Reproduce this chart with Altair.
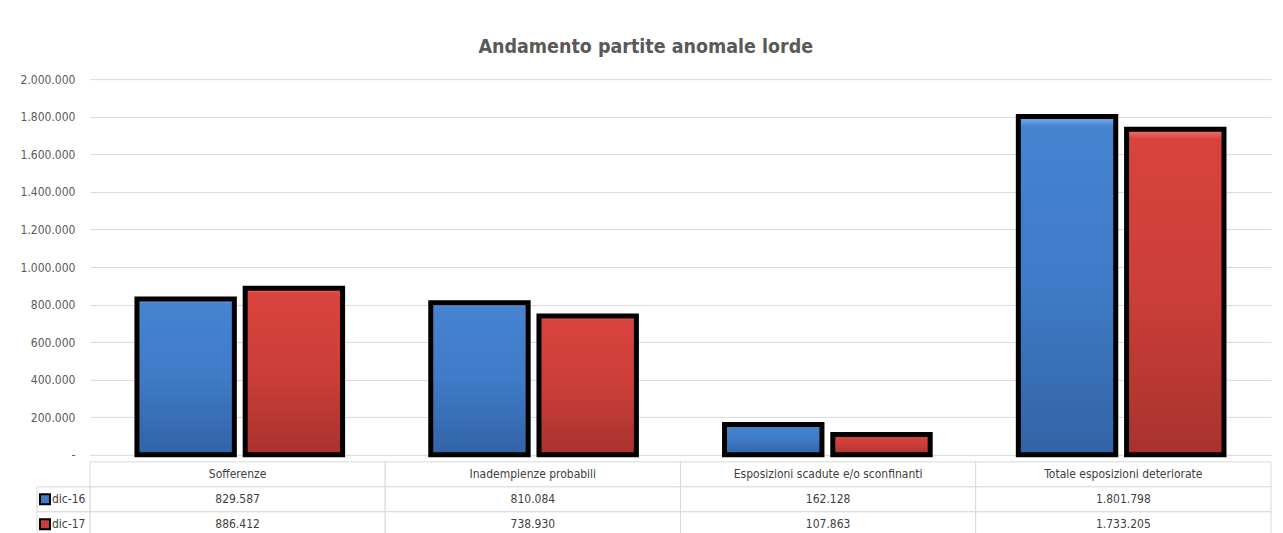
import altair as alt
import pandas as pd

categorie = ["Sofferenze", "Inadempienze probabili",
             "Esposizioni scadute e/o sconfinanti", "Totale esposizioni deteriorate"]
serie = ["dic-16", "dic-17"]
valori_dic16 = [829587, 810084, 162128, 1801798]
valori_dic17 = [886412, 738930, 107863, 1733205]
y_ticks = [0, 200000, 400000, 600000, 800000, 1000000, 1200000, 1400000, 1600000, 1800000, 2000000]
righe = ["cat", "dic-16", "dic-17"]

FONT = "Liberation Sans Narrow, DejaVu Sans Condensed, sans-serif"
GRAY = "#595959"
LINE = "#d9d9d9"


def fmt(v):
    return f"{v:,}".replace(",", ".")


rows = []
tab = []
for c, a, b in zip(categorie, valori_dic16, valori_dic17):
    rows.append({"categoria": c, "serie": "dic-16", "valore": a})
    rows.append({"categoria": c, "serie": "dic-17", "valore": b})
    tab.append({"categoria": c, "riga": "cat", "testo": c})
    tab.append({"categoria": c, "riga": "dic-16", "testo": fmt(a)})
    tab.append({"categoria": c, "riga": "dic-17", "testo": fmt(b)})
df = pd.DataFrame(rows)
df_tab = pd.DataFrame(tab)
df_leg = pd.DataFrame({"riga": serie})

grad_blue = alt.Gradient(gradient="linear", x1=0, x2=0, y1=0, y2=1, stops=[
    alt.GradientStop(color="#7fb6f0", offset=0),
    alt.GradientStop(color="#4683d0", offset=0.03),
    alt.GradientStop(color="#3f7bc6", offset=0.5),
    alt.GradientStop(color="#3263a6", offset=1)])
grad_red = alt.Gradient(gradient="linear", x1=0, x2=0, y1=0, y2=1, stops=[
    alt.GradientStop(color="#f07a72", offset=0),
    alt.GradientStop(color="#d9433d", offset=0.03),
    alt.GradientStop(color="#cc3e39", offset=0.5),
    alt.GradientStop(color="#a8322d", offset=1)])

label_expr = ("datum.value == 0 ? '-' : replace(replace(format(datum.value, ',.0f'), ',', '.'), ',', '.')")

base = alt.Chart(df).encode(
    x=alt.X("categoria:N", sort=categorie,
            scale=alt.Scale(domain=categorie, paddingInner=0.3, paddingOuter=0.16),
            axis=None),
    xOffset=alt.XOffset("serie:N", scale=alt.Scale(domain=serie, paddingInner=0.1, paddingOuter=0)),
    y=alt.Y("valore:Q", scale=alt.Scale(domain=[0, 2000000], nice=False),
            axis=alt.Axis(values=y_ticks, labelExpr=label_expr, title=None, domain=False,
                          ticks=False, labelPadding=15, gridColor=LINE, labelColor=GRAY,
                          labelFontSize=12, labelFont=FONT)),
)
blue = base.transform_filter(alt.datum.serie == "dic-16").mark_bar(
    fill=grad_blue, stroke="black", strokeWidth=5)
red = base.transform_filter(alt.datum.serie == "dic-17").mark_bar(
    fill=grad_red, stroke="black", strokeWidth=5)
top = alt.layer(blue, red).properties(width=1182, height=376)

tx = alt.X("categoria:N", sort=categorie,
           scale=alt.Scale(domain=categorie, paddingInner=0, paddingOuter=0), axis=None)
ty = alt.Y("riga:N", sort=righe, scale=alt.Scale(domain=righe, paddingInner=0, paddingOuter=0),
           axis=None)
cells = alt.Chart(df_tab).mark_rect(fill="white", stroke=LINE, strokeWidth=1).encode(x=tx, y=ty)
texts = alt.Chart(df_tab).mark_text(font=FONT, fontSize=12, color="#404040").encode(
    x=tx, y=ty, text="testo:N")
leg_cells = alt.Chart(df_leg).mark_rect(fill="white", stroke=LINE, strokeWidth=1).encode(
    x=alt.value(-53), x2=alt.value(0), y=ty)
leg_sw = alt.Chart(df_leg).mark_square(size=100, filled=True, stroke="black", strokeWidth=2,
                                       opacity=1).encode(
    x=alt.value(-45), y=ty,
    color=alt.Color("riga:N", scale=alt.Scale(domain=serie, range=["#3f7bc6", "#cc3e39"]),
                    legend=None))
leg_txt = alt.Chart(df_leg).mark_text(font=FONT, fontSize=12, color="#404040", align="left").encode(
    x=alt.value(-38), y=ty, text="riga:N")
table = alt.layer(cells, texts, leg_cells, leg_sw, leg_txt).properties(width=1182, height=75)

chart = alt.vconcat(top, table, spacing=0).properties(
    title=alt.TitleParams("Andamento partite anomale lorde", fontSize=19.5, fontWeight="bold",
                          color=GRAY, anchor="middle", offset=16, font=FONT),
    padding={"left": 12, "top": 28, "right": 3, "bottom": 0},
    background="white",
).configure_view(strokeWidth=0)

chart.save("out.html", embed_options={"renderer": "svg", "actions": False})
